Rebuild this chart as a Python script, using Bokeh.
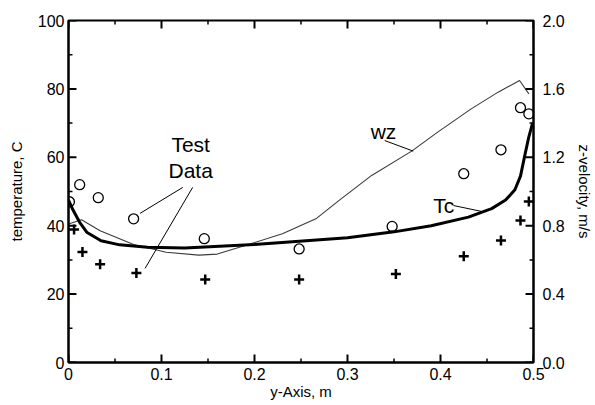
from bokeh.plotting import figure
from bokeh.models import (Range1d, LinearAxis, FixedTicker, Label,
                          NumeralTickFormatter)
from bokeh.embed import file_html
from bokeh.resources import INLINE

# ---- data ----
tc_y = [0.0, 0.005, 0.012, 0.02, 0.035, 0.055, 0.085, 0.125, 0.2, 0.3, 0.35,
        0.39, 0.43, 0.455, 0.47, 0.48, 0.486, 0.491, 0.495, 0.499]
tc_temp = [47.5, 44.5, 41.0, 38.0, 35.6, 34.4, 33.7, 33.5, 34.5, 36.5, 38.2,
           40.0, 42.5, 45.0, 47.5, 50.5, 54.5, 61.0, 66.0, 70.0]

wz_y = [0.0, 0.014, 0.034, 0.07, 0.105, 0.14, 0.16, 0.19, 0.23, 0.266, 0.291,
        0.326, 0.369, 0.397, 0.433, 0.462, 0.485, 0.495]
wz_vel = [0.81, 0.835, 0.77, 0.69, 0.645, 0.628, 0.634, 0.684, 0.753, 0.84, 0.948,
          1.094, 1.236, 1.347, 1.483, 1.581, 1.649, 1.571]

circ_y = [0.001, 0.012, 0.032, 0.070, 0.146, 0.248, 0.348, 0.425, 0.465, 0.486, 0.495]
circ_vel = [0.94, 1.04, 0.964, 0.84, 0.724, 0.664, 0.796, 1.104, 1.244, 1.49, 1.454]

cross_y = [0.006, 0.015, 0.034, 0.073, 0.147, 0.248, 0.352, 0.425, 0.465, 0.486, 0.495]
cross_temp = [38.9, 32.3, 28.7, 26.2, 24.3, 24.3, 25.9, 31.1, 35.7, 41.5, 47.1]

x_major = [0.0, 0.1, 0.2, 0.3, 0.4, 0.5]
x_minor = [0.05, 0.15, 0.25, 0.35, 0.45]
t_major = [0, 20, 40, 60, 80, 100]
t_minor = [10, 30, 50, 70, 90]
v_major = [0.0, 0.4, 0.8, 1.2, 1.6, 2.0]
v_minor = [0.2, 0.6, 1.0, 1.4, 1.8]

ann_text = ["Test", "Data", "wz", "Tc"]
ann_x = [0.1314, 0.1314, 0.3387, 0.4036]
ann_t = [63.6, 56.0, 67.5, 45.9]
lead_x0 = [0.1229, 0.1335, 0.3400, 0.4140]
lead_t0 = [51.2, 51.2, 64.9, 45.9]
lead_x1 = [0.0769, 0.0823, 0.3707, 0.4437]
lead_t1 = [43.6, 27.5, 61.8, 44.2]

FONT = "Liberation Sans"
X0, X1 = 0.0, 0.5
T0, T1 = 0.0, 100.0
V0, V1 = 0.0, 2.0
FRAME_W, FRAME_H = 468, 342
MAJ_PX, MIN_PX = 8, 4

p = figure(width=595, height=405, output_backend="svg", toolbar_location=None,
           x_range=Range1d(X0, X1), y_range=Range1d(T0, T1),
           x_axis_location=None, y_axis_location=None,
           min_border_left=68, min_border_right=59, min_border_top=20,
           min_border_bottom=43)
p.extra_y_ranges = {"vel": Range1d(V0, V1)}
p.xgrid.visible = False
p.ygrid.visible = False
p.outline_line_color = "black"
p.outline_line_width = 2
p.background_fill_color = "white"
p.border_fill_color = "white"


def style(ax, standoff, label_standoff):
    ax.axis_line_width = 2
    ax.axis_line_color = "black"
    ax.major_tick_in = 0
    ax.major_tick_out = 0
    ax.minor_tick_in = 0
    ax.minor_tick_out = 0
    ax.major_label_text_font = FONT
    ax.major_label_text_font_size = "16px"
    ax.major_label_text_color = "black"
    ax.major_label_standoff = standoff
    ax.axis_label_text_font = FONT
    ax.axis_label_text_font_size = "15px"
    ax.axis_label_text_font_style = "normal"
    ax.axis_label_text_color = "black"
    ax.axis_label_standoff = label_standoff


xb = LinearAxis(ticker=FixedTicker(ticks=x_major),
                formatter=NumeralTickFormatter(format="0.[0]"),
                axis_label="y-Axis, m")
style(xb, 5, 0)
p.add_layout(xb, "below")

yl = LinearAxis(ticker=FixedTicker(ticks=t_major), axis_label="temperature, C")
style(yl, 4, 10)
p.add_layout(yl, "left")

yr = LinearAxis(y_range_name="vel", ticker=FixedTicker(ticks=v_major),
                formatter=NumeralTickFormatter(format="0.0"),
                axis_label="z-velocity, m/s")
style(yr, 9, 8)
p.add_layout(yr, "right")

p.line(wz_y, wz_vel, y_range_name="vel", line_color="#3a3a3a", line_width=1.1)
p.line(tc_y, tc_temp, line_color="black", line_width=3)

p.segment(x0=lead_x0, y0=lead_t0, x1=lead_x1, y1=lead_t1,
          line_color="black", line_width=1)

p.scatter(circ_y, circ_vel, y_range_name="vel", marker="circle", size=10,
          fill_color="white", fill_alpha=0, line_color="black", line_width=1.3)
p.scatter(cross_y, cross_temp, marker="cross", size=10, line_color="black",
          line_width=2.5)

# ---- inward tick marks as small filled rectangles ----
px_x = (X1 - X0) / FRAME_W     # one pixel in x units
px_t = (T1 - T0) / FRAME_H     # one pixel in temperature units
px_v = (V1 - V0) / FRAME_H     # one pixel in velocity units

for ticks, length, half in ((x_major, MAJ_PX, 1.0), (x_minor, MIN_PX, 0.75)):
    n = len(ticks)
    lefts = [v - half * px_x for v in ticks]
    rights = [v + half * px_x for v in ticks]
    p.quad(left=lefts, right=rights, bottom=[T0] * n, top=[T0 + length * px_t] * n,
           fill_color="black", line_color=None)
    p.quad(left=list(lefts), right=list(rights), bottom=[T1 - length * px_t] * n,
           top=[T1] * n, fill_color="black", line_color=None)

for ticks, length, half in ((t_major, MAJ_PX, 1.0), (t_minor, MIN_PX, 0.75)):
    n = len(ticks)
    p.quad(left=[X0] * n, right=[X0 + length * px_x] * n,
           bottom=[v - half * px_t for v in ticks], top=[v + half * px_t for v in ticks],
           fill_color="black", line_color=None)

for ticks, length, half in ((v_major, MAJ_PX, 1.0), (v_minor, MIN_PX, 0.75)):
    n = len(ticks)
    p.quad(left=[X1 - length * px_x] * n, right=[X1] * n,
           bottom=[v - half * px_v for v in ticks], top=[v + half * px_v for v in ticks],
           y_range_name="vel", fill_color="black", line_color=None)

for t, x, y in zip(ann_text, ann_x, ann_t):
    p.add_layout(Label(x=x, y=y, text=t, text_align="center",
                       text_baseline="middle", text_font=FONT,
                       text_font_size="21px", text_color="black"))

html = file_html(p, INLINE)
html = html.replace("</head>", "<style>html, body {overflow: hidden;}</style></head>", 1)
open("out.html", "w").write(html)
